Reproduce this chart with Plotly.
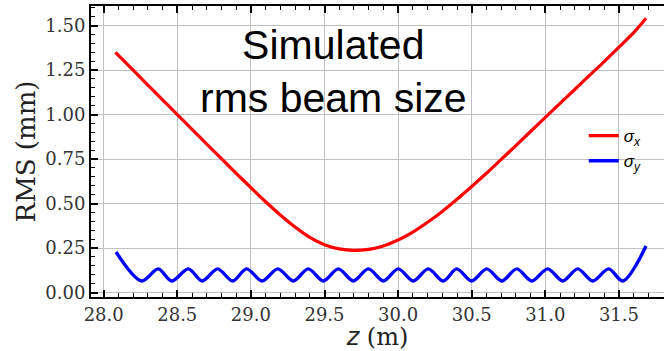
import plotly.graph_objects as go

# sigma_x (mm)
z_x = [28.08, 28.2, 28.3, 28.4, 28.5, 28.6, 28.7, 28.8, 28.9, 29.0, 29.1, 29.2, 29.3, 29.4,
       29.5, 29.6, 29.7, 29.8, 29.9, 30.0, 30.1, 30.2, 30.3, 30.4, 30.5, 30.6, 30.7, 30.8,
       30.9, 31.0, 31.1, 31.2, 31.3, 31.4, 31.5, 31.6, 31.684]
sigma_x = [1.350, 1.250, 1.166, 1.083, 1.000, 0.917, 0.834, 0.752, 0.670, 0.589, 0.510, 0.436,
           0.368, 0.310, 0.269, 0.245, 0.237, 0.243, 0.262, 0.295, 0.340, 0.395, 0.456, 0.524,
           0.596, 0.670, 0.748, 0.826, 0.905, 0.984, 1.063, 1.141, 1.220, 1.298, 1.379, 1.460, 1.541]

# sigma_y (mm): start, alternating troughs / peaks, end
z_y = [28.084, 28.258, 28.371, 28.462, 28.575, 28.670, 28.774, 28.876, 28.971, 29.077, 29.183,
       29.288, 29.390, 29.492, 29.594, 29.696, 29.798, 29.900, 30.001, 30.103, 30.205, 30.307,
       30.398, 30.500, 30.602, 30.704, 30.806, 30.908, 31.016, 31.118, 31.220, 31.322, 31.430,
       31.526, 31.684]
sigma_y = [0.228, 0.065, 0.133, 0.065, 0.133, 0.065, 0.133, 0.065, 0.133, 0.065, 0.133,
           0.065, 0.133, 0.065, 0.133, 0.065, 0.133, 0.065, 0.133, 0.065, 0.133, 0.065,
           0.133, 0.065, 0.133, 0.065, 0.133, 0.065, 0.133, 0.065, 0.133, 0.065, 0.133,
           0.065, 0.261]

x_ticks = [28.0, 28.5, 29.0, 29.5, 30.0, 30.5, 31.0, 31.5]
y_ticks = [0.00, 0.25, 0.50, 0.75, 1.00, 1.25, 1.50]

fig = go.Figure()
fig.add_trace(go.Scatter(x=z_x, y=sigma_x, mode="lines", name="<i>σ<sub>x</sub></i>",
                         line=dict(color="#ff0000", width=3.2, shape="spline", smoothing=0.8)))
fig.add_trace(go.Scatter(x=z_y, y=sigma_y, mode="lines", name="<i>σ<sub>y</sub></i>",
                         line=dict(color="#0000ff", width=3.4, shape="spline", smoothing=0.9)))

fig.add_annotation(x=29.56, y=1.531, xref="x", yref="y", text="Simulated<br>rms beam size",
                   showarrow=False, xanchor="center", yanchor="top",
                   font=dict(family="Liberation Sans", size=41, color="black"))

axis_common = dict(showline=True, linecolor="black", linewidth=2, ticks="inside",
                   tickcolor="black", tickwidth=1.5, ticklen=7, showgrid=True,
                   gridcolor="#c0c0c0", gridwidth=1, zeroline=False,
                   tickfont=dict(family="DejaVu Serif", size=18, color="#333333"))

fig.update_xaxes(**axis_common, range=[27.914, 31.806], tickvals=x_ticks,
                 ticktext=[f"{v:.1f}" for v in x_ticks], mirror="ticks",
                 minor=dict(dtick=0.1, tick0=28.0, ticks="inside", ticklen=4, tickwidth=1,
                            tickcolor="black", showgrid=False),
                 title=dict(text="<span style=\"font-family:'DejaVu Sans'\"><i>z</i></span> (m)",
                            font=dict(family="DejaVu Serif", size=24, color="#222222"), standoff=2))
fig.update_yaxes(**axis_common, range=[-0.025, 1.61], tickvals=y_ticks,
                 ticktext=[f"{v:.2f}" for v in y_ticks],
                 minor=dict(dtick=0.05, tick0=0.0, ticks="inside", ticklen=4, tickwidth=1,
                            tickcolor="black", showgrid=False),
                 title=dict(text="RMS (mm)", font=dict(family="DejaVu Serif", size=26, color="#222222"),
                            standoff=2))

fig.update_layout(width=664, height=351, margin=dict(l=91, r=0, t=6, b=53.5),
                  plot_bgcolor="white", paper_bgcolor="white",
                  legend=dict(x=0.86, y=0.615, xanchor="left", yanchor="top",
                              bgcolor="rgba(0,0,0,0)", borderwidth=0,
                              font=dict(family="Liberation Sans", size=17, color="black")),
                  showlegend=True)

fig.write_html("out.html")
